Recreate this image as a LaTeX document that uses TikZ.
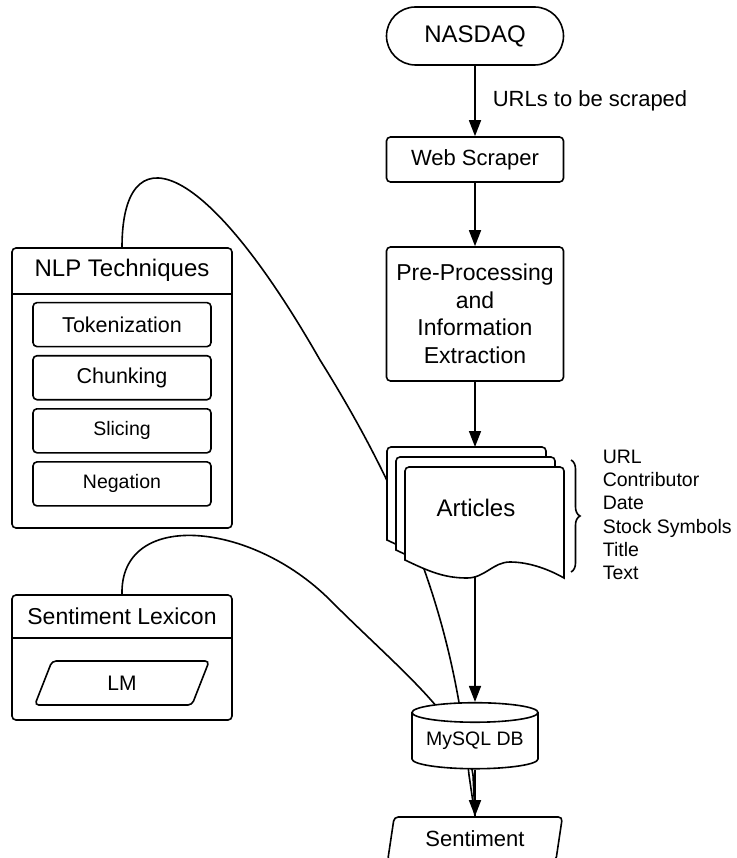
\documentclass[tikz,border=0pt]{standalone}
\usepackage{fontspec}
\setmainfont{Liberation Sans}
\usetikzlibrary{arrows.meta,positioning,shapes.geometric,decorations.pathreplacing}

\begin{document}
\begin{tikzpicture}[x=1pt,y=-1pt,>={Triangle[length=16pt,width=12pt]},line width=1.6pt,
  fbig/.style={font=\fontsize{24pt}{29pt}\selectfont},
  fmid/.style={font=\fontsize{22pt}{27pt}\selectfont},
  fsml/.style={font=\fontsize{19.5pt}{23.3pt}\selectfont},
  blk/.style={draw,rounded corners=4pt,fill=white,align=center,minimum width=177pt,inner sep=0pt},
  cont/.style={draw,rounded corners=4pt,minimum width=220pt,inner sep=0pt},
  sub/.style={draw,rounded corners=4pt,minimum width=178pt,minimum height=44pt,inner sep=0pt},
  slant/.style={draw,trapezium,trapezium left angle=76,trapezium right angle=104,trapezium stretches=true,
    rounded corners=4pt,fill=white,minimum width=175pt,minimum height=44pt,inner sep=0pt}]
\useasboundingbox (0,0) rectangle (736,858);
% main column
\node[blk,fbig,rounded corners=29pt,minimum height=58pt] (nasdaq) at (475,36) {NASDAQ};
\node[blk,fmid,minimum height=45pt] (scraper) at (475,159.5) {Web Scraper};
\node[blk,font=\fontsize{23pt}{27.5pt}\selectfont,minimum height=134pt] (prep) at (475,314) {Pre-Processing\\and\\Information\\Extraction};
% left containers
\node[cont,minimum height=280pt] (nlp) at (122,388) {};
\node[fbig,minimum width=220pt,minimum height=45pt,anchor=north] (nlpT) at (nlp.north) {NLP Techniques};
\draw (nlpT.south west) -- (nlpT.south east);
\node[sub,font=\fontsize{21.5pt}{26pt}\selectfont,below=8pt of nlpT] (tok) {Tokenization};
\node[sub,font=\fontsize{21.5pt}{26pt}\selectfont,below=7.5pt of tok] (chunk) {Chunking};
\node[sub,fsml,below=7.5pt of chunk] (slice) {Slicing};
\node[sub,fsml,below=7.5pt of slice] (neg) {Negation};
\node[cont,minimum height=125pt] (lex) at (122,657.5) {};
\node[font=\fontsize{23pt}{27pt}\selectfont,minimum width=220pt,minimum height=42pt,anchor=north] (lexT) at (lex.north) {Sentiment Lexicon};
\draw (lexT.south west) -- (lexT.south east);
\node[slant,font=\fontsize{21pt}{25pt}\selectfont] (lm) at (122,683) {LM};
\node[slant,fmid] (sent) at (475,839) {Sentiment};
% curved links (behind articles and db)
\draw (nlp.north) .. controls (122,135) and (200,150) .. (320,360) .. controls (420,520) and (455,640) .. (469,775) -- (sent.north);
\draw (lex.north) .. controls (120,510) and (250,520) .. (330,600) .. controls (400,670) and (465,720) .. (473,775) -- (sent.north);
% article stack
\foreach \dx/\dy in {387/447,396/457,405/467}
  \draw[fill=white,shift={(\dx,\dy)}] (0,93) [rounded corners=4pt] -- (0,0) -- (159,0) [sharp corners] -- (159,111)
    .. controls (145,103) and (125,95) .. (105,95) .. controls (88,95) and (80,111) .. (62,111)
    .. controls (40,111) and (25,105) .. (0,93) -- cycle;
\node[fbig] (art) at (476,508) {Articles};
\coordinate (artTop) at (475,447);
\coordinate (artBot) at (475,576);
\draw[decorate,decoration={brace,amplitude=9pt}] (571,460) -- (571,572);
\node[fsml,anchor=west,align=left,inner sep=0pt] (fields) at (602,515) {URL\\Contributor\\Date\\Stock Symbols\\Title\\Text};
\node[cylinder,shape border rotate=90,draw,fill=white,minimum width=126pt,minimum height=66pt,shape aspect=0.2,inner sep=0pt,fsml] (db) at (475,741) {MySQL DB};
% arrows
\draw[->] (nasdaq) -- node[right=17pt,inner sep=0pt,fmid] {URLs to be scraped} (scraper);
\draw[->] (scraper) -- (prep);
\draw[->] (prep) -- (artTop);
\draw[->] (artBot) -- (db);
\draw[->] (db) -- (sent);
\end{tikzpicture}
\end{document}
